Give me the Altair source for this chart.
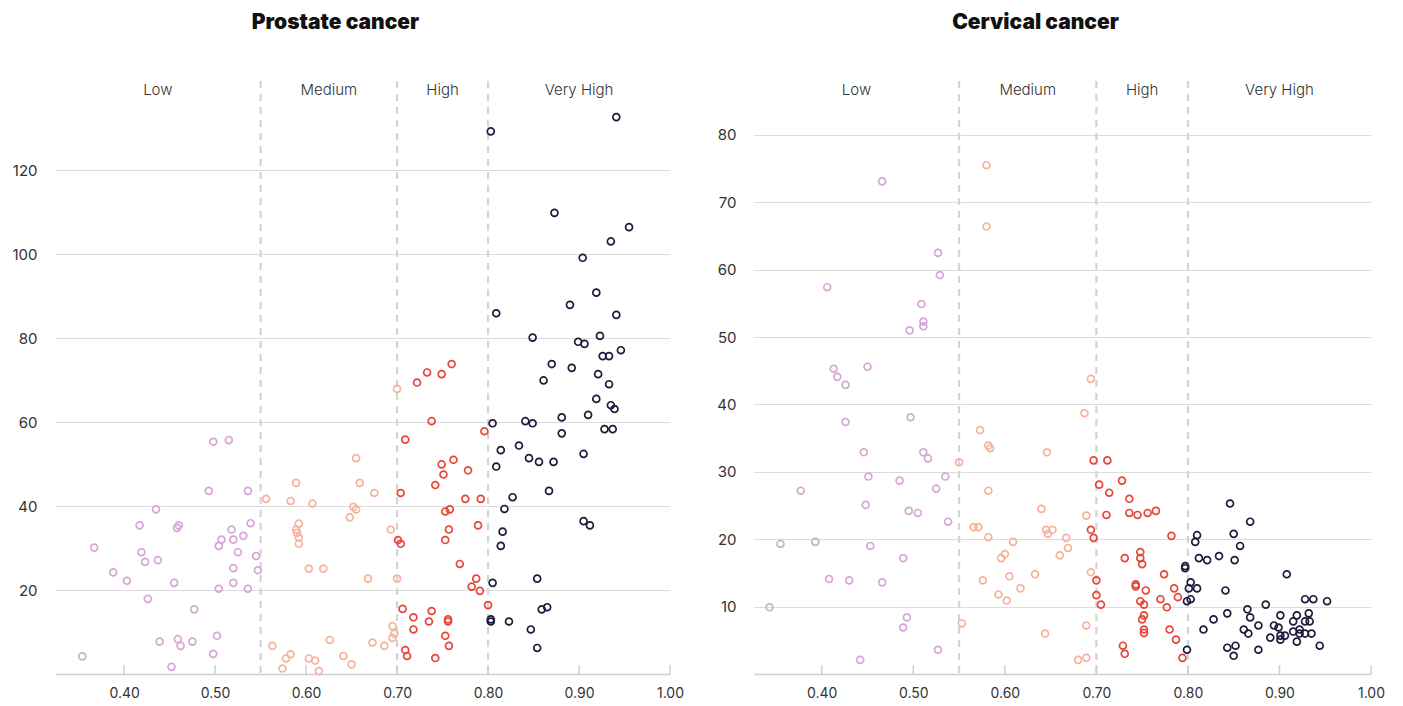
import altair as alt
import pandas as pd

FONT = "Inter"

# ---------------- Prostate cancer ----------------
pc_low_x = [0.498, 0.515, 0.493, 0.536, 0.435, 0.417, 0.458, 0.460, 0.518, 0.539,
            0.507, 0.520, 0.531, 0.504, 0.367, 0.419, 0.525, 0.423, 0.437, 0.545,
            0.520, 0.547, 0.388, 0.403, 0.455, 0.520, 0.504, 0.536, 0.426, 0.477,
            0.439, 0.459, 0.462, 0.475, 0.502, 0.354, 0.498, 0.452]
pc_low_y = [55.3, 55.7, 43.6, 43.6, 39.2, 35.4, 34.8, 35.4, 34.4, 35.9,
            32.0, 32.0, 32.9, 30.5, 30.1, 29.0, 29.0, 26.7, 27.1, 28.1,
            25.2, 24.7, 24.2, 22.2, 21.7, 21.7, 20.3, 20.3, 17.9, 15.4,
            7.7, 8.3, 6.7, 7.7, 9.1, 4.2, 4.8, 1.7]

pc_med_x = [0.700, 0.655, 0.589, 0.659, 0.675, 0.556, 0.583, 0.607, 0.652, 0.655,
            0.648, 0.592, 0.589, 0.590, 0.592, 0.592, 0.693, 0.603, 0.619, 0.668,
            0.700, 0.695, 0.697, 0.695, 0.673, 0.686, 0.626, 0.563, 0.583, 0.578,
            0.574, 0.603, 0.610, 0.614, 0.641, 0.650]
pc_med_y = [67.9, 51.4, 45.5, 45.5, 43.1, 41.7, 41.2, 40.6, 39.8, 39.2,
            37.3, 35.8, 34.4, 33.6, 32.5, 31.0, 34.4, 25.1, 25.1, 22.7,
            22.7, 11.4, 9.6, 8.6, 7.5, 6.7, 8.1, 6.7, 4.7, 3.7,
            1.3, 3.7, 3.2, 0.7, 4.3, 2.3]

pc_high_x = [0.760, 0.733, 0.749, 0.722, 0.738, 0.709, 0.762, 0.749, 0.778, 0.751,
             0.742, 0.704, 0.775, 0.792, 0.753, 0.758, 0.789, 0.757, 0.753, 0.701,
             0.704, 0.769, 0.796, 0.787, 0.782, 0.791, 0.800, 0.706, 0.738, 0.718,
             0.756, 0.756, 0.735, 0.718, 0.753, 0.757, 0.709, 0.711, 0.742]
pc_high_y = [73.8, 71.8, 71.4, 69.4, 60.2, 55.8, 51.0, 49.9, 48.5, 47.5,
             45.0, 43.1, 41.7, 41.7, 38.7, 39.2, 35.4, 34.4, 31.9, 31.9,
             31.0, 26.2, 57.8, 22.7, 20.8, 19.8, 16.4, 15.5, 15.0, 13.5,
             13.0, 12.5, 12.5, 10.6, 9.1, 6.7, 5.7, 4.3, 3.8]

pc_vh_x = [0.941, 0.803, 0.873, 0.955, 0.935, 0.904, 0.919, 0.890, 0.809, 0.941,
           0.849, 0.923, 0.899, 0.906, 0.926, 0.933, 0.946, 0.870, 0.892, 0.921,
           0.861, 0.933, 0.919, 0.935, 0.939, 0.805, 0.841, 0.849, 0.881, 0.910,
           0.881, 0.928, 0.937, 0.814, 0.834, 0.845, 0.856, 0.872, 0.905, 0.809,
           0.867, 0.827, 0.818, 0.905, 0.912, 0.816, 0.814, 0.805, 0.854, 0.859,
           0.865, 0.803, 0.803, 0.823, 0.847, 0.854]
pc_vh_y = [132.6, 129.2, 109.8, 106.4, 103.0, 99.1, 90.8, 87.9, 85.9, 85.5,
           80.1, 80.5, 79.1, 78.6, 75.7, 75.7, 77.1, 73.8, 72.9, 71.4,
           69.9, 69.0, 65.5, 64.0, 63.1, 59.7, 60.2, 59.7, 61.1, 61.7,
           57.3, 58.3, 58.3, 53.3, 54.4, 51.4, 50.5, 50.5, 52.4, 49.4,
           43.6, 42.1, 39.3, 36.4, 35.4, 33.9, 30.5, 21.7, 22.7, 15.4,
           15.9, 13.0, 12.5, 12.5, 10.6, 6.2]

# ---------------- Cervical cancer ----------------
cc_low_x = [0.466, 0.527, 0.529, 0.406, 0.509, 0.511, 0.511, 0.496, 0.413, 0.417,
            0.426, 0.450, 0.426, 0.497, 0.446, 0.511, 0.516, 0.451, 0.485, 0.535,
            0.525, 0.377, 0.448, 0.495, 0.505, 0.538, 0.355, 0.393, 0.453, 0.489,
            0.408, 0.430, 0.466, 0.343, 0.493, 0.489, 0.527, 0.442]
cc_low_y = [73.1, 62.5, 59.2, 57.4, 54.9, 52.3, 51.6, 51.0, 45.3, 44.1,
            42.9, 45.6, 37.4, 38.1, 32.9, 32.9, 32.0, 29.3, 28.7, 29.3,
            27.5, 27.2, 25.1, 24.2, 23.9, 22.6, 19.3, 19.6, 19.0, 17.2,
            14.1, 13.9, 13.6, 9.9, 8.4, 6.9, 3.6, 2.1]

cc_med_x = [0.580, 0.580, 0.694, 0.687, 0.573, 0.582, 0.584, 0.646, 0.550, 0.582,
            0.640, 0.689, 0.566, 0.571, 0.645, 0.652, 0.647, 0.582, 0.609, 0.667,
            0.669, 0.660, 0.600, 0.596, 0.694, 0.576, 0.605, 0.633, 0.617, 0.593,
            0.602, 0.553, 0.689, 0.644, 0.689, 0.680]
cc_med_y = [75.5, 66.4, 43.8, 38.7, 36.2, 33.9, 33.5, 32.9, 31.4, 27.2,
            24.5, 23.5, 21.8, 21.8, 21.4, 21.4, 20.8, 20.3, 19.6, 20.2,
            18.7, 17.6, 17.8, 17.2, 15.1, 13.9, 14.5, 14.8, 12.7, 11.8,
            10.9, 7.5, 7.2, 6.0, 2.4, 2.1]

cc_high_x = [0.697, 0.712, 0.703, 0.728, 0.714, 0.736, 0.711, 0.736, 0.745, 0.756,
             0.765, 0.694, 0.697, 0.782, 0.731, 0.748, 0.748, 0.750, 0.774, 0.700,
             0.743, 0.743, 0.754, 0.785, 0.789, 0.700, 0.770, 0.748, 0.752, 0.705,
             0.777, 0.752, 0.750, 0.752, 0.752, 0.780, 0.787, 0.729, 0.731, 0.794]
cc_high_y = [31.7, 31.7, 28.1, 28.7, 26.9, 26.0, 23.6, 23.9, 23.6, 23.9,
             24.2, 21.4, 20.2, 20.5, 17.2, 18.1, 17.2, 16.3, 14.8, 13.9,
             13.3, 13.0, 12.4, 12.7, 11.4, 11.7, 11.1, 10.8, 10.3, 10.3,
             9.9, 8.7, 8.1, 6.6, 6.1, 6.6, 5.1, 4.2, 3.0, 2.4]

cc_vh_x = [0.846, 0.868, 0.810, 0.808, 0.850, 0.857, 0.812, 0.821, 0.834, 0.851,
           0.797, 0.797, 0.908, 0.803, 0.801, 0.810, 0.841, 0.799, 0.803, 0.885,
           0.928, 0.937, 0.952, 0.865, 0.843, 0.901, 0.919, 0.932, 0.868, 0.828,
           0.877, 0.915, 0.928, 0.933, 0.894, 0.899, 0.817, 0.861, 0.922, 0.866,
           0.915, 0.922, 0.928, 0.935, 0.890, 0.901, 0.906, 0.901, 0.919, 0.944,
           0.843, 0.852, 0.877, 0.850, 0.799]
cc_vh_y = [25.3, 22.6, 20.6, 19.6, 20.8, 19.0, 17.2, 16.9, 17.5, 16.9,
           16.0, 15.7, 14.8, 13.6, 12.7, 12.7, 12.4, 10.8, 11.1, 10.3,
           11.1, 11.1, 10.8, 9.6, 9.0, 8.7, 8.7, 9.0, 8.4, 8.1,
           7.2, 7.8, 7.8, 7.8, 7.2, 6.9, 6.6, 6.6, 6.6, 6.0,
           6.3, 6.0, 6.0, 6.0, 5.4, 5.7, 5.7, 5.1, 4.8, 4.2,
           3.9, 4.2, 3.6, 2.7, 3.6]

groups = ["Low", "Medium", "High", "Very High"]
colors = ["#d6a7d6", "#f6b39b", "#e8463b", "#1d1b3b"]
thresholds = [0.55, 0.70, 0.80]
x_ticks = [0.4, 0.5, 0.6, 0.7, 0.8, 0.9, 1.0]

XAXIS = alt.Axis(values=x_ticks, format=".2f", grid=False, ticks=False,
                 domainColor="#cfcfcf", domainWidth=1.5, labelPadding=12,
                 labelFlush=False, labelFontSize=14, labelColor="#333",
                 labelFont=FONT, title=None)


def panel(title, data, xdom, ydom, yticks, width, height):
    rows = []
    for g, (xs, ys) in zip(groups, data):
        for xv, yv in zip(xs, ys):
            rows.append({"x": xv, "y": yv, "group": g})
    df = pd.DataFrame(rows)
    xs_ = alt.Scale(domain=xdom, nice=False, zero=False)
    ys_ = alt.Scale(domain=ydom, nice=False, zero=False)

    bounds = [xdom[0]] + thresholds + [xdom[1]]
    zones = pd.DataFrame({
        "x": [(bounds[i] + bounds[i + 1]) / 2 for i in range(4)],
        "name": groups,
    })

    pts = alt.Chart(df).mark_point(
        shape="circle", filled=False, size=48, strokeWidth=1.7, opacity=1
    ).encode(
        x=alt.X("x:Q", scale=xs_, axis=XAXIS),
        y=alt.Y("y:Q", scale=ys_, axis=alt.Axis(
            values=yticks, grid=True, gridColor="#dcdcdc", gridWidth=1.2,
            domain=False, ticks=False, labelPadding=18, labelFontSize=15,
            labelColor="#333", labelFont=FONT, title=None,
            minExtent=47, maxExtent=47)),
        color=alt.Color("group:N", scale=alt.Scale(domain=groups, range=colors),
                        legend=None),
    )

    rules = alt.Chart(pd.DataFrame({"x": thresholds})).mark_rule(
        color="#d4d4d4", strokeWidth=2.2, strokeDash=[7, 6]
    ).encode(x=alt.X("x:Q", scale=xs_, axis=XAXIS))

    tick_df = pd.DataFrame({"x": x_ticks})
    tks = alt.Chart(tick_df).mark_rule(color="#cfcfcf", strokeWidth=1.5).encode(
        x=alt.X("x:Q", scale=xs_, axis=XAXIS),
        y=alt.value(height - 9), y2=alt.value(height),
    )

    labels = alt.Chart(zones).mark_text(
        fontSize=15, font=FONT, fontWeight=300, color="#333", baseline="middle"
    ).encode(x=alt.X("x:Q", scale=xs_, axis=XAXIS), y=alt.value(9), text="name:N")

    return alt.layer(rules, tks, pts, labels).properties(
        width=width, height=height,
        title=alt.TitleParams(title, fontSize=21, fontWeight=900, font=FONT,
                              color="#111", anchor="middle", offset=47, dx=-27),
    )


left = panel("Prostate cancer",
             [(pc_low_x, pc_low_y), (pc_med_x, pc_med_y),
              (pc_high_x, pc_high_y), (pc_vh_x, pc_vh_y)],
             [0.324, 1.0], [0, 141.2], [20, 40, 60, 80, 100, 120], 615, 593)
right = panel("Cervical cancer",
              [(cc_low_x, cc_low_y), (cc_med_x, cc_med_y),
               (cc_high_x, cc_high_y), (cc_vh_x, cc_vh_y)],
              [0.326, 1.0], [0, 88.0], [10, 20, 30, 40, 50, 60, 70, 80], 617, 593)

chart = alt.hconcat(left, right, spacing=23).properties(
    padding={"top": 3, "left": 0, "right": 0, "bottom": 0}
).configure(background="white").configure_view(stroke=None, strokeWidth=0)

chart.save("out.html", embed_options={"renderer": "svg", "actions": False})
